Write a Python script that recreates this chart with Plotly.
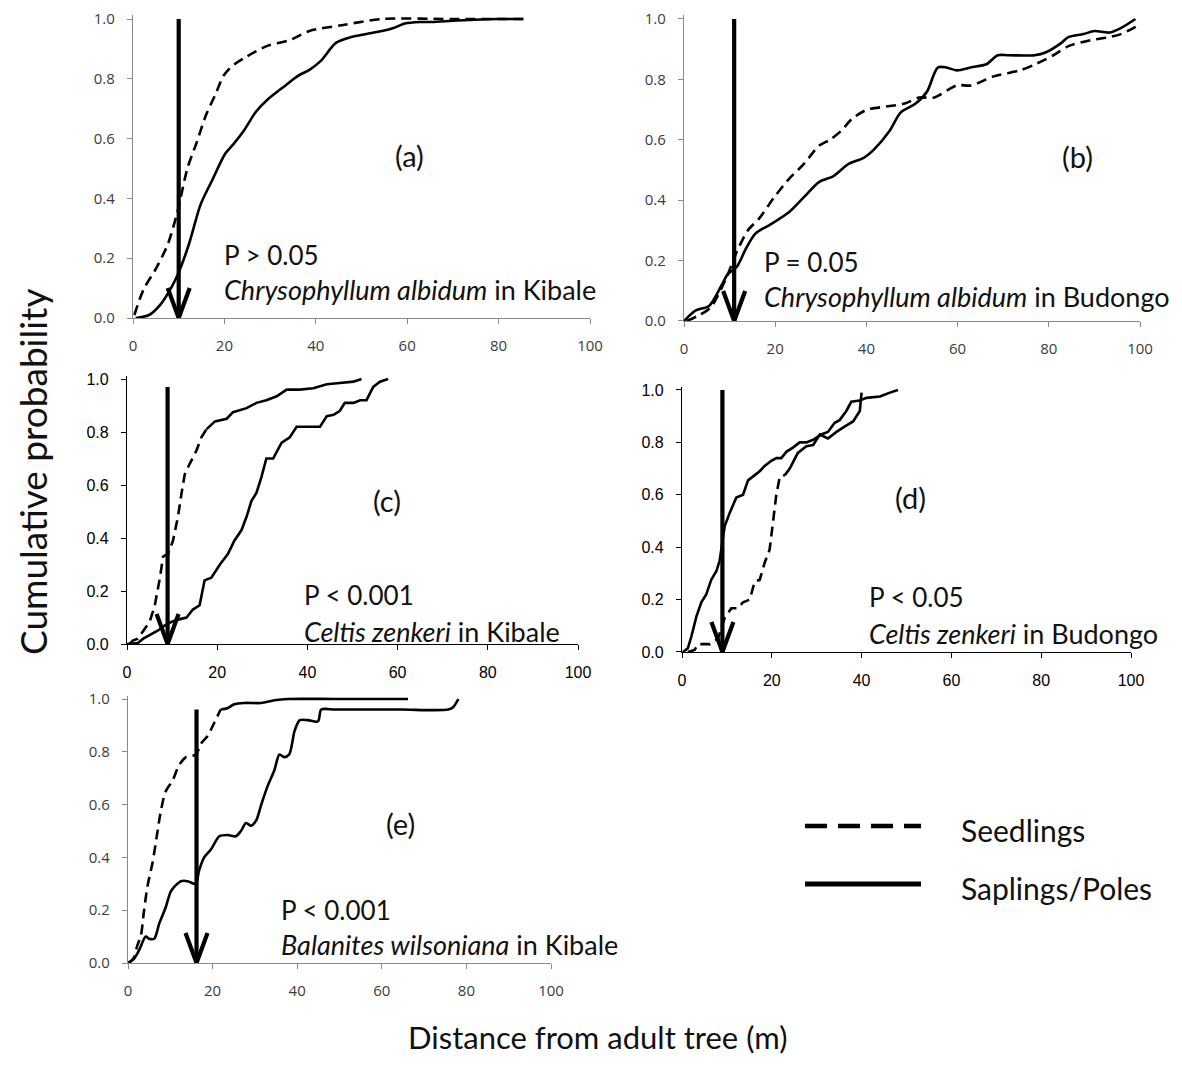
import plotly.graph_objects as go

# page body adds an 8px margin, so the figure is drawn 8px in from the top-left corner
OFF = 8
W, H = 1182 - 2 * OFF, 1067 - 2 * OFF

# ---------------- data ----------------
X_TICKS = [0, 20, 40, 60, 80, 100]
Y_TICKS = [0.0, 0.2, 0.4, 0.6, 0.8, 1.0]

# (a) Chrysophyllum albidum in Kibale
A_SEED_X = [0.3, 2.3, 5.2, 7.7, 9.8, 11.9, 14.0, 16.0, 18.1, 19.8, 21.5, 24.4, 29.4, 34.4, 38.6, 46.0, 54.5, 70.0, 86.0]
A_SEED_Y = [0.01, 0.095, 0.17, 0.25, 0.36, 0.50, 0.59, 0.68, 0.75, 0.81, 0.84, 0.87, 0.91, 0.93, 0.96, 0.98, 1.0, 1.0, 1.0]
A_SAP_X = [0.6, 3.5, 6.0, 8.5, 10.2, 12.3, 14.8, 17.3, 20.2, 21.9, 24.4, 26.9, 29.4, 32.7, 36.1, 38.6, 41.1,
           44.4, 47.8, 51.1, 54.5, 57.0, 59.5, 62.8, 65.3, 71.0, 79.6, 85.4]
A_SAP_Y = [0.0, 0.01, 0.045, 0.105, 0.16, 0.25, 0.38, 0.46, 0.55, 0.58, 0.63, 0.69, 0.73, 0.77, 0.81, 0.83, 0.86,
           0.92, 0.94, 0.95, 0.96, 0.97, 0.985, 0.99, 0.99, 0.995, 1.0, 1.0]

# (b) Chrysophyllum albidum in Budongo
B_SEED_X = [0.6, 3.4, 5.9, 9.2, 11.6, 14.0, 16.5, 19.8, 23.0, 26.3, 29.6, 32.0, 34.5, 36.9, 40.2, 44.3, 48.4,
            51.6, 54.9, 59.8, 63.0, 67.9, 73.7, 77.0, 81.0, 84.3, 89.2, 93.3, 95.8, 99.8]
B_SEED_Y = [0.0, 0.02, 0.046, 0.14, 0.23, 0.30, 0.34, 0.41, 0.47, 0.52, 0.58, 0.60, 0.63, 0.67, 0.70, 0.71, 0.72,
            0.74, 0.74, 0.78, 0.78, 0.81, 0.83, 0.85, 0.88, 0.91, 0.93, 0.94, 0.95, 0.98]
B_SAP_X = [0.0, 2.6, 5.5, 8.3, 9.6, 11.6, 13.6, 15.7, 19.0, 23.0, 26.3, 29.6, 32.8, 36.1, 39.4, 41.8, 45.1, 47.5,
           50.8, 53.3, 54.9, 55.7, 57.4, 59.8, 63.0, 66.3, 68.8, 71.2, 76.9, 79.4, 82.7, 84.3, 87.6, 90.0, 93.3,
           95.8, 99.0]
B_SAP_Y = [0.0, 0.035, 0.05, 0.12, 0.155, 0.18, 0.24, 0.29, 0.32, 0.36, 0.41, 0.46, 0.48, 0.52, 0.54, 0.57, 0.63,
           0.69, 0.72, 0.76, 0.82, 0.84, 0.84, 0.83, 0.84, 0.85, 0.88, 0.88, 0.88, 0.89, 0.92, 0.94, 0.95, 0.96,
           0.955, 0.97, 1.0]

# (c) Celtis zenkeri in Kibale
C_SEED_X = [0.6, 1.3, 2.4, 3.2, 3.9, 5.0, 6.1, 7.3, 8.0, 9.1, 10.2, 11.3, 12.1, 12.8, 13.9, 15.4, 16.5, 17.6,
            19.5, 22.1, 23.5, 26.5, 28.7, 30.9, 33.2, 35.4, 38.3, 41.3, 44.3, 47.2, 50.2, 52.0]
C_SEED_Y = [0.0, 0.013, 0.02, 0.04, 0.06, 0.083, 0.14, 0.25, 0.33, 0.34, 0.39, 0.48, 0.57, 0.64, 0.68, 0.73, 0.78,
            0.81, 0.84, 0.85, 0.875, 0.89, 0.91, 0.92, 0.935, 0.96, 0.96, 0.965, 0.98, 0.985, 0.99, 1.0]
C_SAP_X = [0.0, 2.4, 3.6, 5.0, 6.8, 8.4, 9.8, 11.3, 13.2, 14.6, 16.1, 17.2, 18.7, 20.6, 22.4, 23.8, 25.4, 26.5,
           27.6, 28.7, 29.8, 30.9, 32.4, 34.3, 36.1, 37.6, 40.6, 42.8, 44.3, 45.8, 47.2, 48.3, 50.2, 51.7, 53.1,
           54.6, 56.1, 57.9]
C_SAP_Y = [0.0, 0.004, 0.02, 0.033, 0.05, 0.07, 0.083, 0.092, 0.10, 0.13, 0.146, 0.24, 0.25, 0.30, 0.34, 0.39,
           0.43, 0.48, 0.54, 0.57, 0.63, 0.70, 0.70, 0.76, 0.78, 0.82, 0.82, 0.82, 0.86, 0.865, 0.88, 0.91, 0.91,
           0.92, 0.92, 0.97, 0.99, 1.0]

# (d) Celtis zenkeri in Budongo
D_SEED_X = [1.3, 2.8, 3.6, 6.2, 8.0, 9.5, 11.0, 12.5, 13.6, 15.1, 16.2, 17.3, 18.4, 19.5, 20.3, 21.0, 21.8, 22.9,
            24.0, 25.8, 27.7, 29.2, 30.7, 32.5, 34.4, 36.2, 38.1, 39.6, 40.0]
D_SEED_Y = [0.0, 0.008, 0.03, 0.03, 0.05, 0.13, 0.167, 0.167, 0.19, 0.20, 0.27, 0.275, 0.34, 0.39, 0.50, 0.60,
            0.67, 0.675, 0.70, 0.76, 0.785, 0.79, 0.83, 0.815, 0.84, 0.86, 0.88, 0.92, 0.99]
D_SAP_X = [0.2, 1.3, 2.1, 3.2, 4.3, 5.4, 6.5, 7.7, 8.4, 9.5, 10.6, 12.1, 13.6, 14.7, 16.2, 17.3, 18.4, 19.9, 21.0,
           22.1, 23.3, 24.7, 26.2, 27.7, 29.2, 31.0, 32.5, 34.0, 35.1, 36.6, 37.7, 39.6, 41.1, 44.1, 46.3, 48.1]
D_SAP_Y = [0.0, 0.014, 0.06, 0.135, 0.19, 0.22, 0.275, 0.31, 0.35, 0.48, 0.53, 0.59, 0.60, 0.655, 0.675, 0.69,
           0.71, 0.73, 0.74, 0.74, 0.765, 0.78, 0.80, 0.80, 0.81, 0.83, 0.84, 0.875, 0.885, 0.92, 0.955, 0.96,
           0.97, 0.975, 0.99, 1.0]

# (e) Balanites wilsoniana in Kibale
E_SEED_X = [0.2, 1.4, 2.2, 3.0, 3.8, 4.6, 5.8, 6.9, 7.7, 8.9, 10.5, 12.1, 13.7, 16.1, 17.2, 18.8, 20.4, 21.9,
            23.5, 25.1, 27.5, 31.5, 34.6, 37.8, 48.9, 66.2]
E_SEED_Y = [0.0, 0.02, 0.067, 0.10, 0.20, 0.29, 0.38, 0.49, 0.57, 0.65, 0.69, 0.75, 0.78, 0.79, 0.83, 0.86, 0.91,
            0.96, 0.965, 0.98, 0.985, 0.985, 0.995, 1.0, 1.0, 1.0]
E_SAP_X = [0.0, 1.4, 2.6, 4.2, 5.0, 6.2, 7.4, 8.9, 10.1, 11.3, 12.5, 14.1, 16.0, 16.8, 18.0, 19.6, 21.6, 23.6,
           25.5, 26.7, 27.9, 29.1, 30.3, 31.5, 33.0, 34.6, 35.8, 36.9, 38.1, 39.4, 40.6, 42.5, 44.9, 45.7, 48.9,
           56.8, 64.7, 75.7, 76.9, 78.1]
E_SAP_Y = [0.0, 0.016, 0.048, 0.10, 0.092, 0.092, 0.15, 0.21, 0.27, 0.295, 0.31, 0.31, 0.30, 0.35, 0.40, 0.43,
           0.48, 0.485, 0.48, 0.50, 0.53, 0.52, 0.54, 0.60, 0.67, 0.73, 0.79, 0.78, 0.79, 0.88, 0.92, 0.92, 0.915,
           0.96, 0.96, 0.96, 0.96, 0.96, 0.97, 1.0]

SEED_X = [A_SEED_X, B_SEED_X, C_SEED_X, D_SEED_X, E_SEED_X]
SEED_Y = [A_SEED_Y, B_SEED_Y, C_SEED_Y, D_SEED_Y, E_SEED_Y]
SAP_X = [A_SAP_X, B_SAP_X, C_SAP_X, D_SAP_X, E_SAP_X]
SAP_Y = [A_SAP_Y, B_SAP_Y, C_SAP_Y, D_SAP_Y, E_SAP_Y]
SEED_DASH_END = [None, None, 17.6, 22.9, 21.9]   # beyond this distance the seedling line renders unbroken

ARROW_X = [10, 11, 9, 9, 16.2]
ARROW_TOP = [1.0, 1.0, 0.97, 1.0, 0.96]

PANEL_LABELS = ["(a)", "(b)", "(c)", "(d)", "(e)"]
P_TEXT = ["P > 0.05", "P = 0.05", "P < 0.001", "P < 0.05", "P < 0.001"]
SPECIES = ["Chrysophyllum albidum", "Chrysophyllum albidum", "Celtis zenkeri", "Celtis zenkeri",
           "Balanites wilsoniana"]
SITES = ["in Kibale", "in Budongo", "in Kibale", "in Budongo", "in Kibale"]
LEGEND_NAMES = ["Seedlings", "Saplings/Poles"]
X_TITLE = "Distance from adult tree (m)"
Y_TITLE = "Cumulative probability"

# ---------------- layout geometry (screen pixels) ----------------
# x pixel of 0 and 100, y pixel of 0 and 1
PANELS = [
    dict(x0=133, x1=590, y0=318, y1=19),
    dict(x0=684, x1=1140, y0=321, y1=19),
    dict(x0=127, x1=578, y0=644, y1=379),
    dict(x0=682, x1=1131, y0=652, y1=390),
    dict(x0=128, x1=551, y0=963, y1=699),
]
STYLE = ["gray", "gray", "black", "black", "gray"]
SMOOTH = [True, True, False, False, True]
LABEL_POS = [(409, 155), (1077, 157), (387, 500), (910, 497), (400, 823)]
P_POS = [(222, 255), (762, 262), (302, 595), (867, 597), (279, 910)]
SP_POS = [(222, 289), (762, 296), (302, 631), (867, 633), (279, 944)]
YMAX = 1.012

ANN_FONT = "Lato"
TXT = "#111111"


def px(x):
    return (x - OFF) / W


def py(y):
    return 1 - (y - OFF) / H


fig = go.Figure()
layout = dict(width=W, height=H, margin=dict(l=0, r=0, t=0, b=0, autoexpand=False), paper_bgcolor="white",
              plot_bgcolor="white", showlegend=False)
annotations = []
shapes = []

for i, p in enumerate(PANELS):
    n = "" if i == 0 else str(i + 1)
    xa, ya = "x" + n, "y" + n
    top_px = p["y0"] - (p["y0"] - p["y1"]) * YMAX
    if STYLE[i] == "gray":
        lc, tf = "#8a8a8a", dict(family="Open Sans", size=15, color="#3c3c3c")
    else:
        lc, tf = "#000000", dict(family="Liberation Sans", size=16, color="#000000")
    layout["xaxis" + n] = dict(domain=[px(p["x0"]), px(p["x1"])], range=[0, 100], anchor=ya,
                               tickvals=X_TICKS, ticks="outside", ticklen=5, tickcolor=lc, showline=True,
                               linecolor=lc, linewidth=1.3, showgrid=False, zeroline=False, tickfont=tf,
                               ticklabelstandoff=9, automargin=False, ticklabeloverflow="allow")
    layout["yaxis" + n] = dict(domain=[py(p["y0"]), py(top_px)], range=[0, YMAX], anchor=xa,
                               tickvals=Y_TICKS, tickformat=".1f", ticks="outside", ticklen=5, tickcolor=lc,
                               showline=True, linecolor=lc, linewidth=1.3, showgrid=False, zeroline=False,
                               tickfont=tf, ticklabelstandoff=9, automargin=False, ticklabeloverflow="allow")

    shape = "spline" if SMOOTH[i] else "linear"
    # saplings / poles (solid)
    fig.add_trace(go.Scatter(x=SAP_X[i], y=SAP_Y[i], mode="lines", xaxis=xa, yaxis=ya,
                             line=dict(color="black", width=2.6, shape=shape, smoothing=0.8),
                             hoverinfo="skip"))
    # seedlings (dashed)
    end = SEED_DASH_END[i]
    sx, sy = SEED_X[i], SEED_Y[i]
    if end is None:
        k = len(sx)
    else:
        k = max(j for j, v in enumerate(sx) if v <= end) + 1
    fig.add_trace(go.Scatter(x=sx[:k], y=sy[:k], mode="lines", xaxis=xa, yaxis=ya,
                             line=dict(color="black", width=2.6, dash="10px,6px", shape=shape, smoothing=0.8),
                             hoverinfo="skip"))
    if k < len(sx):
        fig.add_trace(go.Scatter(x=sx[k - 1:], y=sy[k - 1:], mode="lines", xaxis=xa, yaxis=ya,
                                 line=dict(color="black", width=2.6, shape=shape, smoothing=0.8),
                                 hoverinfo="skip"))

    # arrow (vertical line + open V head)
    ux = (p["x1"] - p["x0"]) / 100.0
    uy = (p["y0"] - p["y1"])
    dx = 11 / ux
    dy = 30 / uy
    ax = ARROW_X[i]
    fig.add_trace(go.Scatter(x=[ax, ax, None, ax - dx, ax, ax + dx],
                             y=[ARROW_TOP[i], 0, None, dy, 0, dy], mode="lines", xaxis=xa, yaxis=ya,
                             line=dict(color="black", width=4.2), hoverinfo="skip"))

    lx, ly = LABEL_POS[i]
    annotations.append(dict(x=px(lx), y=py(ly), xref="paper", yref="paper", text=PANEL_LABELS[i],
                            showarrow=False, xanchor="center", yanchor="middle",
                            font=dict(family=ANN_FONT, size=29, color=TXT)))
    qx, qy = P_POS[i]
    annotations.append(dict(x=px(qx), y=py(qy), xref="paper", yref="paper", text=P_TEXT[i],
                            showarrow=False, xanchor="left", yanchor="middle",
                            font=dict(family=ANN_FONT, size=26, color=TXT)))
    sxp, syp = SP_POS[i]
    annotations.append(dict(x=px(sxp), y=py(syp), xref="paper", yref="paper",
                            text="<i>" + SPECIES[i] + "</i> " + SITES[i],
                            showarrow=False, xanchor="left", yanchor="middle",
                            font=dict(family=ANN_FONT, size=27, color=TXT)))

# legend (drawn)
shapes.append(dict(type="line", xref="paper", yref="paper", x0=px(805), x1=px(921), y0=py(826), y1=py(826),
                   line=dict(color="black", width=4.5, dash="22px,11px")))
shapes.append(dict(type="line", xref="paper", yref="paper", x0=px(805), x1=px(921), y0=py(884), y1=py(884),
                   line=dict(color="black", width=5)))
annotations.append(dict(x=px(959), y=py(830), xref="paper", yref="paper", text=LEGEND_NAMES[0],
                        showarrow=False, xanchor="left", yanchor="middle",
                        font=dict(family=ANN_FONT, size=30, color=TXT)))
annotations.append(dict(x=px(959), y=py(888), xref="paper", yref="paper", text=LEGEND_NAMES[1],
                        showarrow=False, xanchor="left", yanchor="middle",
                        font=dict(family=ANN_FONT, size=30, color=TXT)))

# axis titles
annotations.append(dict(x=px(597), y=py(1037), xref="paper", yref="paper", text=X_TITLE, showarrow=False,
                        xanchor="center", yanchor="middle", font=dict(family=ANN_FONT, size=31, color=TXT)))
annotations.append(dict(x=px(33), y=py(472), xref="paper", yref="paper", text=Y_TITLE, showarrow=False,
                        textangle=-90, xanchor="center", yanchor="middle",
                        font=dict(family=ANN_FONT, size=37, color=TXT)))

layout["annotations"] = annotations
layout["shapes"] = shapes
fig.update_layout(**layout)
fig.write_html("out.html")
